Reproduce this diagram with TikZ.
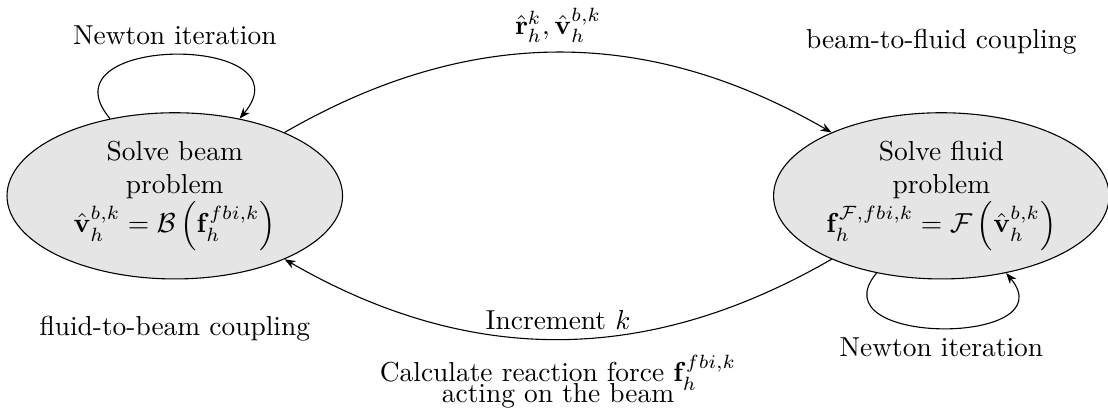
\documentclass[tikz,border=0pt]{standalone}
\usepackage{amsmath, amssymb}
\usepackage{tikz}
\usetikzlibrary{arrows.meta, positioning, shapes.geometric}

\begin{document}
\begin{tikzpicture}[
  solver/.style={draw, ellipse, fill=black!10, minimum width=4.3cm, minimum height=2.13cm, inner sep=1pt, align=center},
  arrow/.style={-{Stealth[length=4pt, width=3pt]}},
  loopy/.style={looseness=1.9}
]
  \useasboundingbox (0,0) rectangle (14.2,5.31);

  \node[solver] (beam) at (2.24,2.8) {Solve beam\\problem\\$\hat{\mathbf{v}}_h^{b,k} = \mathcal{B}\left(\mathbf{f}_h^{fbi,k}\right)$};
  \node[solver, right=5.51cm of beam] (fluid) {Solve fluid\\problem\\$\mathbf{f}_h^{\mathcal{F},fbi,k} = \mathcal{F}\left(\hat{\mathbf{v}}_h^{b,k}\right)$};

  \node[above=0.62cm of fluid] (b2f) {beam-to-fluid coupling};
  \node[below=0.35cm of beam] (f2b) {fluid-to-beam coupling};

  % Newton loops
  \draw[arrow] (beam) to[out=130, in=50, loopy, looseness=2.2] node[above] (newtonb) {Newton iteration} (beam);
  \draw[arrow] (fluid) to[out=230, in=310, loopy] node[below] (newtonf) {Newton iteration} (fluid);

  % coupling
  \draw[arrow] (beam) to[bend left=30] node[above] (data) {$\hat{\mathbf{r}}_h^k, \hat{\mathbf{v}}_h^{b,k}$} (fluid);
  \draw[arrow] (fluid) to[bend left=30] node[above] (inc) {Increment $k$} (beam);

  \node[below=0.2cm of inc, inner sep=0pt, align=center] (react) {Calculate reaction force $\mathbf{f}_h^{fbi,k}$\\[-4.5pt]acting on the beam};
\end{tikzpicture}
\end{document}
